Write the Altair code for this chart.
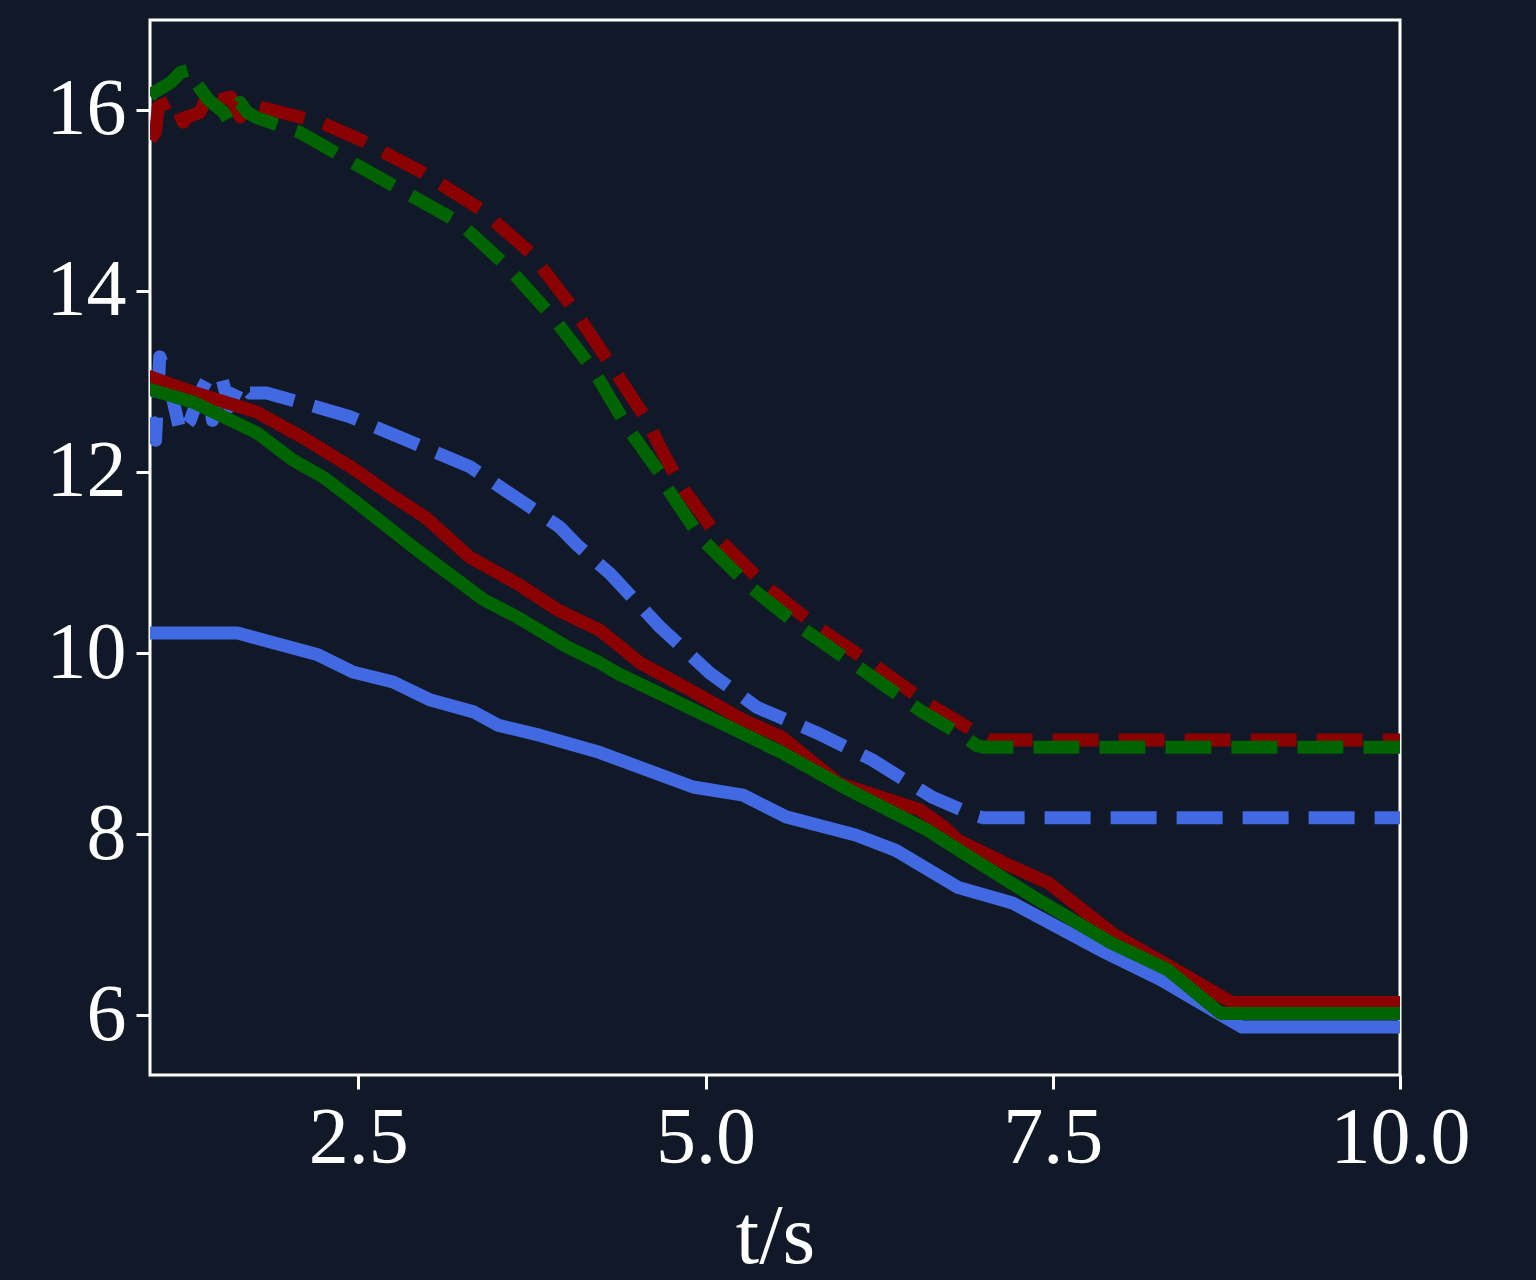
import altair as alt
import pandas as pd

# ---- data ----
blue_solid_t = [1.0, 1.63, 2.21, 2.46, 2.75, 3.02, 3.33, 3.51, 3.81, 4.24, 4.91, 5.27, 5.58, 6.08, 6.37,
                6.82, 7.21, 7.54, 7.88, 8.28, 8.86, 10.0]
blue_solid_v = [10.22, 10.22, 9.98, 9.79, 9.68, 9.48, 9.35, 9.20, 9.09, 8.90, 8.52, 8.43, 8.19, 7.99, 7.82,
                7.41, 7.24, 6.97, 6.69, 6.39, 5.87, 5.87]

red_solid_t = [1.0, 1.31, 1.77, 2.10, 2.44, 2.73, 2.99, 3.30, 3.64, 3.93, 4.24, 4.53, 4.89, 5.27, 5.55,
               5.96, 6.32, 6.54, 6.70, 6.82, 7.18, 7.47, 7.95, 8.31, 8.79, 10.0]
red_solid_v = [13.05, 12.88, 12.66, 12.38, 12.06, 11.75, 11.49, 11.06, 10.77, 10.48, 10.25, 9.89, 9.59, 9.26, 9.07,
               8.56, 8.38, 8.27, 8.10, 7.93, 7.66, 7.46, 6.88, 6.57, 6.14, 6.14]

green_solid_t = [1.0, 1.31, 1.77, 2.03, 2.25, 2.49, 2.92, 3.40, 3.64, 4.0, 4.24, 4.36, 4.96, 5.55, 6.03,
                 6.59, 6.97, 7.40, 7.92, 8.33, 8.71, 10.0]
green_solid_v = [12.91, 12.77, 12.43, 12.13, 11.94, 11.66, 11.14, 10.59, 10.40, 10.07, 9.89, 9.78, 9.34, 8.90, 8.49,
                 8.05, 7.68, 7.27, 6.80, 6.50, 6.02, 6.02]

red_dash_t = [1.0, 1.04, 1.06, 1.17, 1.24, 1.27, 1.36, 1.43, 1.50, 1.58, 1.65, 1.70, 1.79,
              2.23, 2.51, 2.97, 3.38, 3.74, 4.04, 4.31, 4.48, 4.58, 4.67, 4.79, 4.86, 5.12, 5.44,
              5.80, 6.23, 6.59, 6.95, 7.04, 10.0]
red_dash_v = [15.67, 15.75, 16.03, 16.11, 15.86, 15.92, 15.97, 16.22, 16.11, 16.14, 15.92, 16.08, 16.03,
              15.86, 15.67, 15.30, 14.90, 14.42, 13.82, 13.20, 12.80, 12.57, 12.28, 11.94, 11.77, 11.22, 10.73,
              10.29, 9.85, 9.45, 9.12, 9.04, 9.04]

green_dash_t = [1.0, 1.03, 1.15, 1.22, 1.29, 1.33, 1.42, 1.53, 1.56, 1.65, 1.70, 1.77,
                2.08, 2.51, 2.80, 3.23, 3.57, 3.90, 4.19, 4.45, 4.67, 4.72, 4.96, 5.32, 5.68,
                6.16, 6.54, 6.87, 6.95, 7.0, 10.0]
green_dash_v = [16.15, 16.19, 16.30, 16.41, 16.44, 16.30, 16.11, 15.97, 15.89, 16.08, 15.97, 15.91,
                15.75, 15.37, 15.12, 14.75, 14.27, 13.71, 13.13, 12.46, 11.99, 11.83, 11.28, 10.73, 10.29,
                9.78, 9.37, 9.07, 8.98, 8.96, 8.96]

blue_dash_t = [1.0, 1.04, 1.07, 1.12, 1.17, 1.22, 1.29, 1.36, 1.41, 1.45, 1.52, 1.57, 1.65, 1.72, 1.84,
               2.10, 2.44, 2.85, 3.30, 3.69, 3.95, 4.07, 4.31, 4.67, 5.03, 5.37, 5.80, 6.20, 6.63,
               6.93, 7.0, 10.0]
blue_dash_v = [12.6, 12.35, 13.27, 13.09, 12.76, 12.43, 12.57, 12.87, 13.02, 12.57, 13.02, 12.72, 12.98, 12.87, 12.87,
               12.76, 12.61, 12.35, 12.06, 11.66, 11.39, 11.20, 10.88, 10.29, 9.78, 9.40, 9.12, 8.82, 8.41,
               8.21, 8.18, 8.18]

BG = "#111827"
RED = "#8b0000"
GREEN = "#006400"
BLUE = "#4169e1"
LW = 13

x_scale = alt.Scale(domain=[1.0, 10.0], nice=False, zero=False)
y_scale = alt.Scale(domain=[5.34, 16.99], nice=False, zero=False)

x_axis = alt.Axis(values=[2.5, 5.0, 7.5, 10.0], format=".1f", title="t/s", grid=False,
                  labelFlush=False, labelOverlap=False)
y_axis = alt.Axis(values=[6, 8, 10, 12, 14, 16], format="d", title=None, grid=False,
                  labelFlush=False, labelOverlap=False)


def layer(ts, vs, color, dashed):
    df = pd.DataFrame({"t": ts, "v": vs})
    kw = dict(color=color, strokeWidth=LW, strokeJoin="round", clip=True)
    if dashed:
        kw.update(strokeDash=[46, 20], strokeCap="butt")
    else:
        kw.update(strokeCap="square")
    return alt.Chart(df).mark_line(**kw).encode(
        x=alt.X("t:Q", scale=x_scale, axis=x_axis),
        y=alt.Y("v:Q", scale=y_scale, axis=y_axis),
        order="t:Q",
    )


chart = alt.layer(
    layer(blue_dash_t, blue_dash_v, BLUE, True),
    layer(blue_solid_t, blue_solid_v, BLUE, False),
    layer(red_dash_t, red_dash_v, RED, True),
    layer(red_solid_t, red_solid_v, RED, False),
    layer(green_dash_t, green_dash_v, GREEN, True),
    layer(green_solid_t, green_solid_v, GREEN, False),
).properties(
    width=1250,
    height=1055,
    autosize=alt.AutoSizeParams(type="none"),
    padding={"left": 150, "top": 20, "right": 136, "bottom": 205},
    background=BG,
).configure_view(
    stroke="white", strokeWidth=3, fill=BG
).configure_axis(
    domain=False,
    tickColor="white",
    tickWidth=3,
    tickSize=14,
    labelColor="white",
    labelFont="Liberation Serif",
    labelFontSize=80,
    labelPadding=10,
    titleColor="white",
    titleFont="Liberation Serif",
    titleFontSize=84,
    titleFontWeight="normal",
    titlePadding=18,
)

chart.save("out.html", embed_options={"renderer": "svg", "actions": False})
